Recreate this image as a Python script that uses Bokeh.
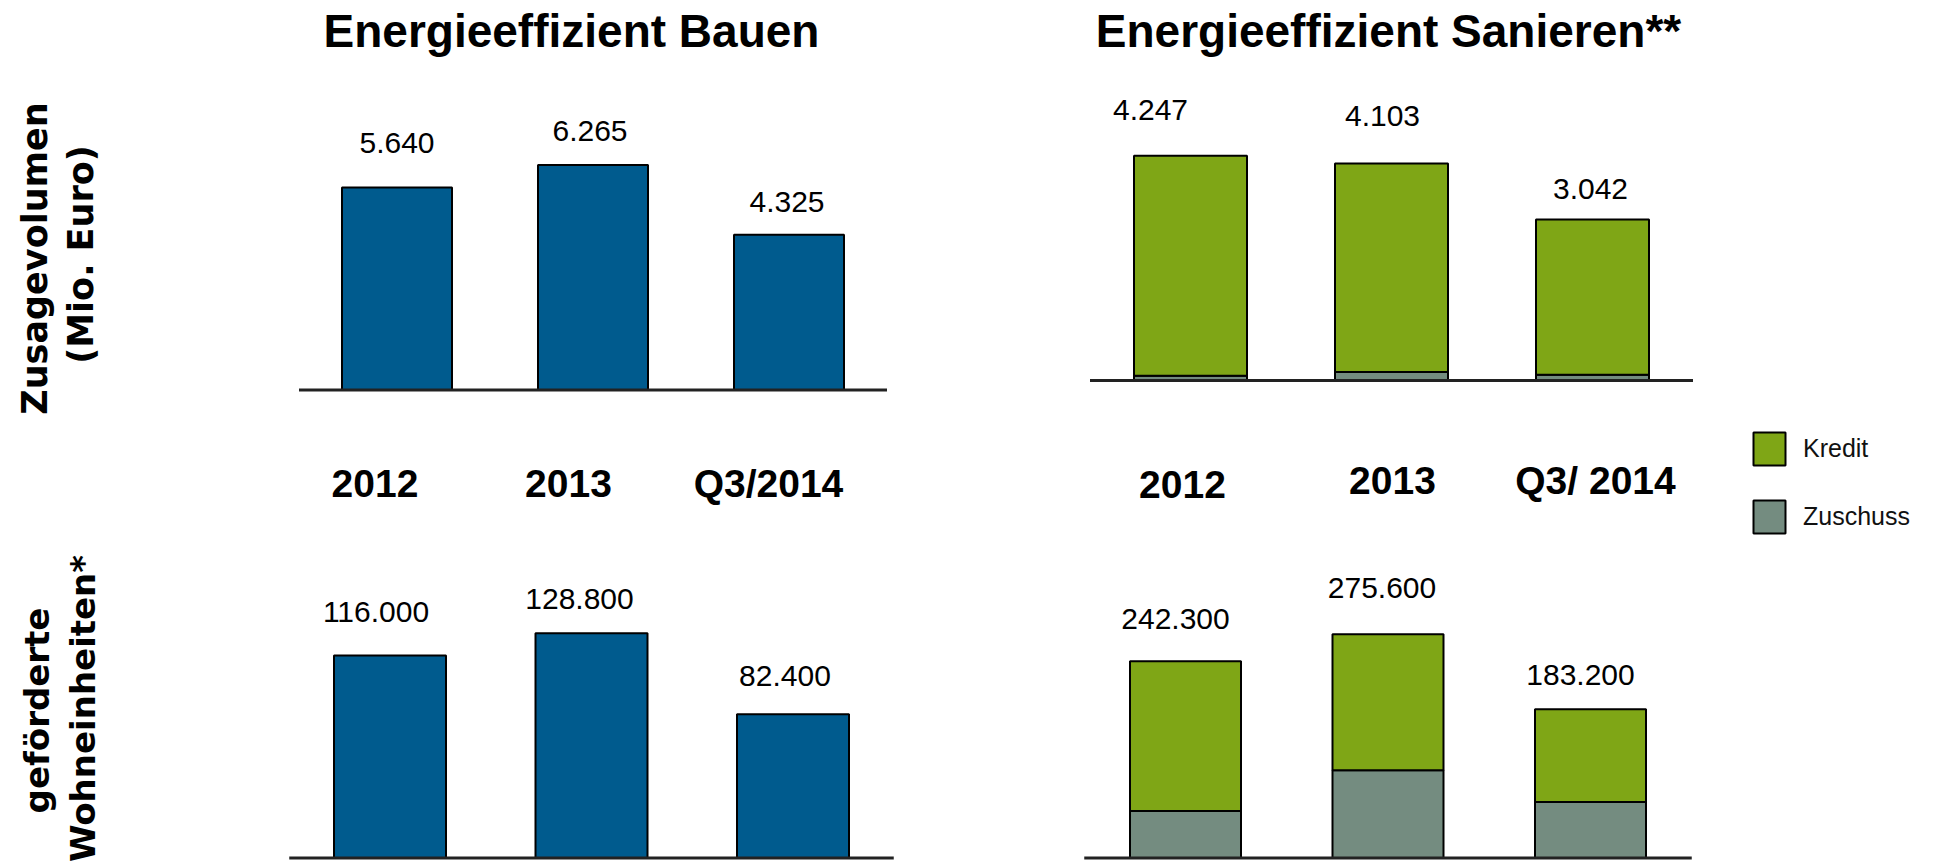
import numpy as np
from bokeh.plotting import figure
from bokeh.layouts import column, row
from bokeh.models import Range1d, ColumnDataSource, Legend, LegendItem
from bokeh.core.properties import value
from bokeh.embed import file_html
from bokeh.resources import INLINE

# ---------------- data ----------------
years_left = ["2012", "2013", "Q3/2014"]
years_right = ["2012", "2013", "Q3/ 2014"]
bauen_volumen = [5640, 6265, 4325]                      # Mio. Euro
bauen_wohneinheiten = [116000, 128800, 82400]
sanieren_volumen_total = [4247, 4103, 3042]              # Mio. Euro
sanieren_volumen_zuschuss = [90, 160, 110]
sanieren_wohneinheiten_total = [242300, 275600, 183200]
sanieren_wohneinheiten_zuschuss = [58000, 108000, 69000]
series_names = ["Kredit", "Zuschuss"]
title_left = "Energieeffizient Bauen"
title_right = "Energieeffizient Sanieren**"
ylabel_top = ["Zusagevolumen", "(Mio. Euro)"]
ylabel_bottom = ["geförderte", "Wohneinheiten*"]

# ---------------- style ----------------
BLUE = "#005B8E"
GREEN = "#7FA616"
GREY = "#748C80"
AXIS = "#222222"
FONT = "Liberation Sans"
YFONT = "DejaVu Sans"

# panel geometry (page pixels)
PAN = {
    "tl": dict(ox=0, oy=0, W=980, H=540, c0=396.5, s=196.0, yb=389.5, k=0.0359, bw=110),
    "tr": dict(ox=980, oy=0, W=956, H=540, c0=1190.0, s=201.0, yb=380.0, k=0.0529, bw=113),
    "bl": dict(ox=0, oy=540, W=980, H=322, c0=389.5, s=201.5, yb=857.5, k=0.001745, bw=112),
    "br": dict(ox=980, oy=540, W=956, H=322, c0=1185.0, s=202.5, yb=857.5, k=0.000812, bw=111),
}

# value-label offsets (pixels) of the label centre from the bar top centre: (dx, dy above)
VAL_OFF = {
    "tl": ([0, -3, -2], [45, 34, 33]),
    "tr": ([-40, -9, -2], [46, 47, 31]),
    "bl": ([-14, -12, -8], [44, 34, 38]),
    "br": ([-10, -6, -10], [42, 46, 34]),
}
# category label centres (page pixels)
CAT_POS = {
    "tl": ([374.5, 568, 768], [483, 483, 483]),
    "tr": ([1182, 1392, 1595], [484, 480, 480]),
}


def fmt(v):
    return f"{v:,}".replace(",", ".")


def X2d(sp, X):
    return (X - sp["c0"]) / sp["s"]


def Y2d(sp, Y):
    return (sp["yb"] - Y) / sp["k"]


def make_fig(sp):
    p = figure(width=sp["W"], height=sp["H"],
               x_range=Range1d(X2d(sp, sp["ox"]), X2d(sp, sp["ox"] + sp["W"])),
               y_range=Range1d(Y2d(sp, sp["oy"] + sp["H"]), Y2d(sp, sp["oy"])),
               output_backend="svg", toolbar_location=None, tools="",
               x_axis_location=None, y_axis_location=None, min_border=0)
    p.outline_line_color = None
    p.grid.visible = False
    p.background_fill_color = "white"
    p.border_fill_color = "white"
    return p


def add_text(p, xs, ys, texts, size, style="normal", font=FONT, align="center", angle=0.0):
    src = ColumnDataSource(dict(x=list(xs), y=list(ys), t=list(texts)))
    p.text(x="x", y="y", text="t", source=src, text_font=value(font),
           text_font_size=size, text_font_style=style, text_align=align,
           text_baseline="middle", text_color="black", angle=angle)


def baseline(p, n):
    p.segment(x0=[-0.5], x1=[n - 0.5], y0=[0], y1=[0], line_width=3, line_color=AXIS)


def value_labels(p, key, vals):
    sp = PAN[key]
    ddx, ddy = VAL_OFF[key]
    xs = [i + ddx[i] / sp["s"] for i in range(len(vals))]
    ys = [v + ddy[i] / sp["k"] for i, v in enumerate(vals)]
    add_text(p, xs, ys, [fmt(v) for v in vals], "30px")


def ylabels(p, key, lines, xc, yc, size):
    sp = PAN[key]
    for line, X, Y in zip(lines, xc, yc):
        add_text(p, [X2d(sp, X)], [Y2d(sp, Y)], [line], size, style="bold",
                 font=YFONT, angle=np.pi / 2)


# ---------------- top left ----------------
sp = PAN["tl"]
tl = make_fig(sp)
idx = list(range(len(years_left)))
tl.vbar(x=idx, top=bauen_volumen, bottom=0, width=sp["bw"] / sp["s"],
        fill_color=BLUE, line_color="black", line_width=2)
baseline(tl, len(idx))
value_labels(tl, "tl", bauen_volumen)
add_text(tl, [X2d(sp, X) for X in CAT_POS["tl"][0]], [Y2d(sp, Y) for Y in CAT_POS["tl"][1]],
         years_left, "39px", style="bold")
add_text(tl, [X2d(sp, 571)], [Y2d(sp, 30)], [title_left], "46px", style="bold")
ylabels(tl, "tl", ylabel_top, [34, 80], [258, 254], "35px")

# ---------------- top right ----------------
sp = PAN["tr"]
tr = make_fig(sp)
idx = list(range(len(years_right)))
src_tr = ColumnDataSource(dict(
    x=idx,
    Zuschuss=sanieren_volumen_zuschuss,
    Kredit=[t - z for t, z in zip(sanieren_volumen_total, sanieren_volumen_zuschuss)]))
r_z, r_k = tr.vbar_stack(["Zuschuss", "Kredit"], x="x", width=sp["bw"] / sp["s"], source=src_tr,
                         fill_color=[GREY, GREEN], line_color="black", line_width=2)
baseline(tr, len(idx))
value_labels(tr, "tr", sanieren_volumen_total)
add_text(tr, [X2d(sp, X) for X in CAT_POS["tr"][0]], [Y2d(sp, Y) for Y in CAT_POS["tr"][1]],
         years_right, "39px", style="bold")
add_text(tr, [X2d(sp, 1388)], [Y2d(sp, 30)], [title_right], "46px", style="bold")
leg = Legend(items=[LegendItem(label=series_names[0], renderers=[r_k]),
                    LegendItem(label=series_names[1], renderers=[r_z])],
             location=(1749 - sp["ox"], sp["oy"] + sp["H"] - 537),
             orientation="vertical", glyph_width=40, glyph_height=41, spacing=27,
             label_standoff=14, padding=0, margin=0, border_line_color=None,
             background_fill_alpha=0, label_text_font=FONT, label_text_font_size="25px",
             label_text_color="#111111")
tr.add_layout(leg)

# ---------------- bottom left ----------------
sp = PAN["bl"]
bl = make_fig(sp)
idx = list(range(len(years_left)))
bl.vbar(x=idx, top=bauen_wohneinheiten, bottom=0, width=sp["bw"] / sp["s"],
        fill_color=BLUE, line_color="black", line_width=2)
baseline(bl, len(idx))
value_labels(bl, "bl", bauen_wohneinheiten)
ylabels(bl, "bl", ylabel_bottom, [36, 82], [710, 708], "34px")

# ---------------- bottom right ----------------
sp = PAN["br"]
br = make_fig(sp)
idx = list(range(len(years_right)))
src_br = ColumnDataSource(dict(
    x=idx,
    Zuschuss=sanieren_wohneinheiten_zuschuss,
    Kredit=[t - z for t, z in zip(sanieren_wohneinheiten_total, sanieren_wohneinheiten_zuschuss)]))
br.vbar_stack(["Zuschuss", "Kredit"], x="x", width=sp["bw"] / sp["s"], source=src_br,
              fill_color=[GREY, GREEN], line_color="black", line_width=2)
baseline(br, len(idx))
value_labels(br, "br", sanieren_wohneinheiten_total)

layout = column(row(tl, tr, spacing=0), row(bl, br, spacing=0), spacing=0)
open("out.html", "w").write(file_html(layout, INLINE))
